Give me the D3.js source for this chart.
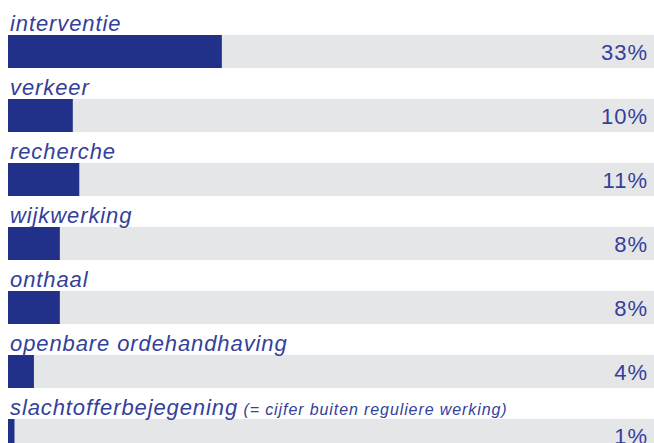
<!DOCTYPE html>
<html>
<head>
<meta charset="utf-8">
<script src="https://cdn.jsdelivr.net/npm/d3@7"></script>
<style>
  body { margin: 0; background: #fff; }
  svg { display: block; }
</style>
</head>
<body>
<div id="chart"></div>
<script>
// categories, notes and percentages
const categories = ["interventie", "verkeer", "recherche", "wijkwerking", "onthaal", "openbare ordehandhaving", "slachtofferbejegening"];
const notes = ["", "", "", "", "", "", "(= cijfer buiten reguliere werking)"];
const values = [33, 10, 11, 8, 8, 4, 1];

const width = 654;
const height = 443;

const svg = d3.select("#chart")
  .append("svg")
  .attr("width", width)
  .attr("height", height);

// x scale: percentage to pixels
const x = d3.scaleLinear()
  .domain([0, 100])
  .range([8, 656]);

// y scale: one band per category
const y = d3.scaleBand()
  .domain(categories)
  .range([35, 35 + 6 * 64 + 33])
  .paddingInner(31 / 64)
  .paddingOuter(0);

const rows = svg.selectAll(".row")
  .data(categories)
  .join("g")
  .attr("class", "row")
  .attr("transform", d => `translate(0, ${y(d)})`);

// grey background track
rows.append("rect")
  .attr("x", x(0))
  .attr("width", width - x(0))
  .attr("height", y.bandwidth())
  .attr("fill", "#e5e6e8");

// dark value bar
rows.append("rect")
  .attr("x", x(0))
  .attr("width", (d, i) => x(values[i]) - x(0))
  .attr("height", y.bandwidth())
  .attr("fill", "#21318a");

// category label above the bar
const label = rows.append("text")
  .attr("x", 10)
  .attr("y", -4)
  .attr("fill", "#34409a")
  .style("font-family", "'Liberation Sans', Arial, sans-serif")
  .style("font-style", "italic")
  .style("font-size", "22px")
  .style("letter-spacing", "0.9px");

label.append("tspan")
  .text(d => d);

label.append("tspan")
  .style("font-size", "16px")
  .style("letter-spacing", "0.9px")
  .text((d, i) => notes[i] ? " " + notes[i] : "");

// percentage on the right
rows.append("text")
  .attr("x", 648)
  .attr("y", 25)
  .attr("text-anchor", "end")
  .attr("fill", "#34409a")
  .style("font-family", "'Liberation Sans', Arial, sans-serif")
  .style("font-size", "22px")
  .style("letter-spacing", "1px")
  .text((d, i) => values[i] + "%");
</script>
</body>
</html>
